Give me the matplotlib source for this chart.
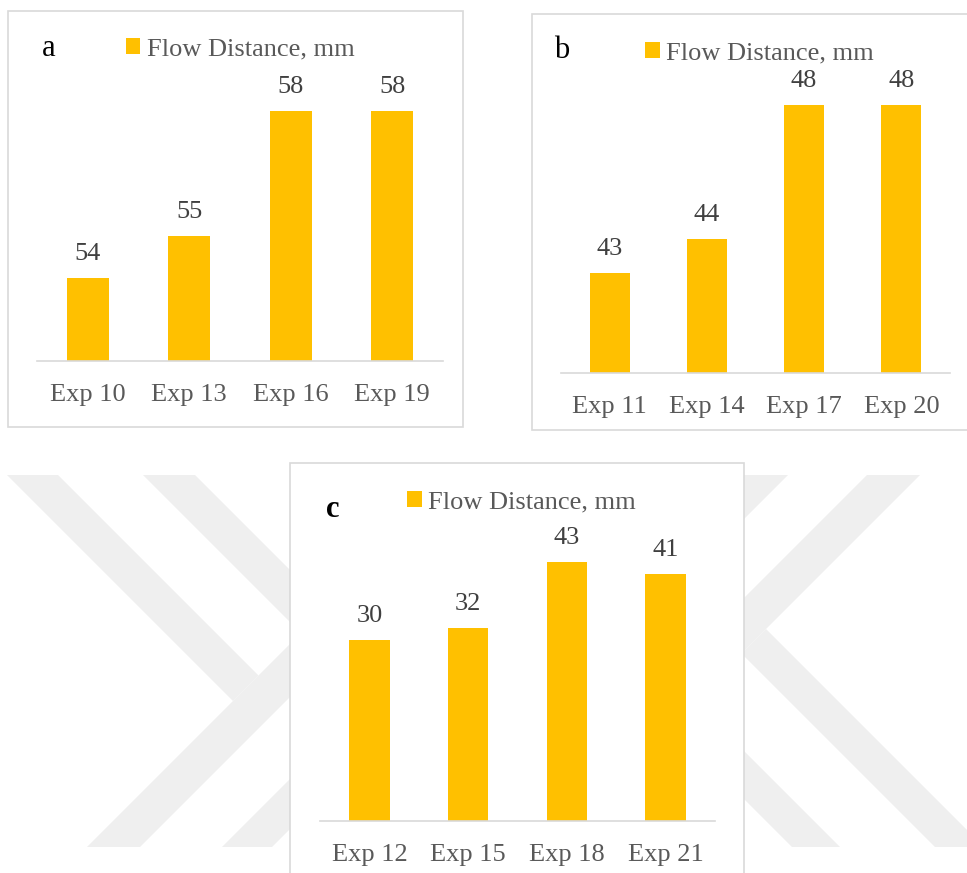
import matplotlib
matplotlib.use("Agg")
import matplotlib.pyplot as plt
from matplotlib.patches import Polygon, Rectangle

# ---- data -------------------------------------------------------------
series_name = "Flow Distance, mm"

panel_letters = ["a", "b", "c"]

labels_a = ["Exp 10", "Exp 13", "Exp 16", "Exp 19"]
values_a = [54, 55, 58, 58]

labels_b = ["Exp 11", "Exp 14", "Exp 17", "Exp 20"]
values_b = [43, 44, 48, 48]

labels_c = ["Exp 12", "Exp 15", "Exp 18", "Exp 21"]
values_c = [30, 32, 43, 41]

# ---- styling ----------------------------------------------------------
W, H = 967, 873
BAR = "#FFC000"
AXIS_GREY = "#D9D9D9"
TEXT_GREY = "#595959"
LABEL_GREY = "#404040"
WM_GREY = "#EFEFEF"
SERIF = "Liberation Serif"
FS = 19

fig = plt.figure(figsize=(W / 100, H / 100), dpi=100)
fig.patch.set_facecolor("white")

# background layer in pixel coordinates (y down)
bg = fig.add_axes([0, 0, 1, 1], zorder=-2)
bg.set_xlim(0, W)
bg.set_ylim(H, 0)
bg.axis("off")

# faint chevron watermark
watermark = [
    [(7, 475), (58, 475), (258.5, 675.5), (233, 701)],
    [(87, 847), (140, 847), (400, 587), (400, 534)],
    [(143, 475), (195, 475), (394.5, 674.5), (368.5, 700.5)],
    [(222, 847), (272, 847), (450, 669), (450, 619)],
    [(867, 475), (920, 475), (600, 795), (600, 742)],
    [(766, 629), (984, 847), (935, 847), (741.5, 653.5)],
    [(737, 475), (788, 475), (550, 713), (550, 662)],
    [(792, 847), (840, 847), (628, 635), (604, 659)],
]
for pts in watermark:
    bg.add_patch(Polygon(pts, closed=True, facecolor=WM_GREY, edgecolor="none", zorder=1))

# chart frames (x0, y0, x1, y1)
frames = [(8, 11, 463, 427), (532, 14, 980, 430), (290, 463, 744, 890)]
for x0, y0, x1, y1 in frames:
    bg.add_patch(Rectangle((x0, y0), x1 - x0, y1 - y0, facecolor="white",
                           edgecolor=AXIS_GREY, linewidth=1.2, zorder=2))


def px_axes(x0, y0, x1, y1):
    return fig.add_axes([x0 / W, 1 - y1 / H, (x1 - x0) / W, (y1 - y0) / H])


def draw_panel(rect, labels, values, ylim, letter, letter_xy, legend_xy,
               letter_weight="normal"):
    ax = px_axes(*rect)
    ax.set_facecolor("none")
    x = list(range(len(labels)))
    bars = ax.bar(x, values, width=0.41, color=BAR, zorder=2)
    ax.set_xlim(-0.5, len(labels) - 0.5)
    ax.set_ylim(*ylim)
    for s in ("top", "left", "right"):
        ax.spines[s].set_visible(False)
    ax.spines["bottom"].set_color(AXIS_GREY)
    ax.spines["bottom"].set_linewidth(1.2)
    ax.spines["bottom"].set_zorder(3)
    ax.set_yticks([])
    ax.set_xticks(x)
    ax.set_xticklabels(labels, family=SERIF, fontsize=FS, color=TEXT_GREY)
    ax.tick_params(axis="x", length=0, pad=16.5)
    for xi, v in zip(x, values):
        ax.annotate(f"{v}", (xi, v), xytext=(0, 13), textcoords="offset points",
                    ha="center", va="baseline", family=SERIF, fontsize=FS,
                    color=LABEL_GREY, annotation_clip=False)
    leg = ax.legend([bars], [series_name], loc="center",
                    bbox_to_anchor=(legend_xy[0] / W, 1 - legend_xy[1] / H),
                    bbox_transform=fig.transFigure, frameon=False,
                    handlelength=0.55, handleheight=0.55, handletextpad=0.25,
                    borderpad=0, borderaxespad=0,
                    prop={"family": SERIF, "size": FS})
    for t in leg.get_texts():
        t.set_color(TEXT_GREY)
    fig.text(letter_xy[0] / W, 1 - letter_xy[1] / H, letter, family=SERIF,
             fontsize=22, fontweight=letter_weight, color="black",
             ha="left", va="baseline")
    return ax


draw_panel((37, 69, 443, 361), labels_a, values_a, (52, 59),
           panel_letters[0], (42, 56), (240, 49))
draw_panel((561, 72, 950, 373), labels_b, values_b, (40, 49),
           panel_letters[1], (554, 58), (759.5, 53.5))
draw_panel((320, 519.5, 715, 821), labels_c, values_c, (0, 50),
           panel_letters[2], (326, 517), (521.5, 502), letter_weight="bold")

fig.savefig("out.png", dpi=100, facecolor="white")
